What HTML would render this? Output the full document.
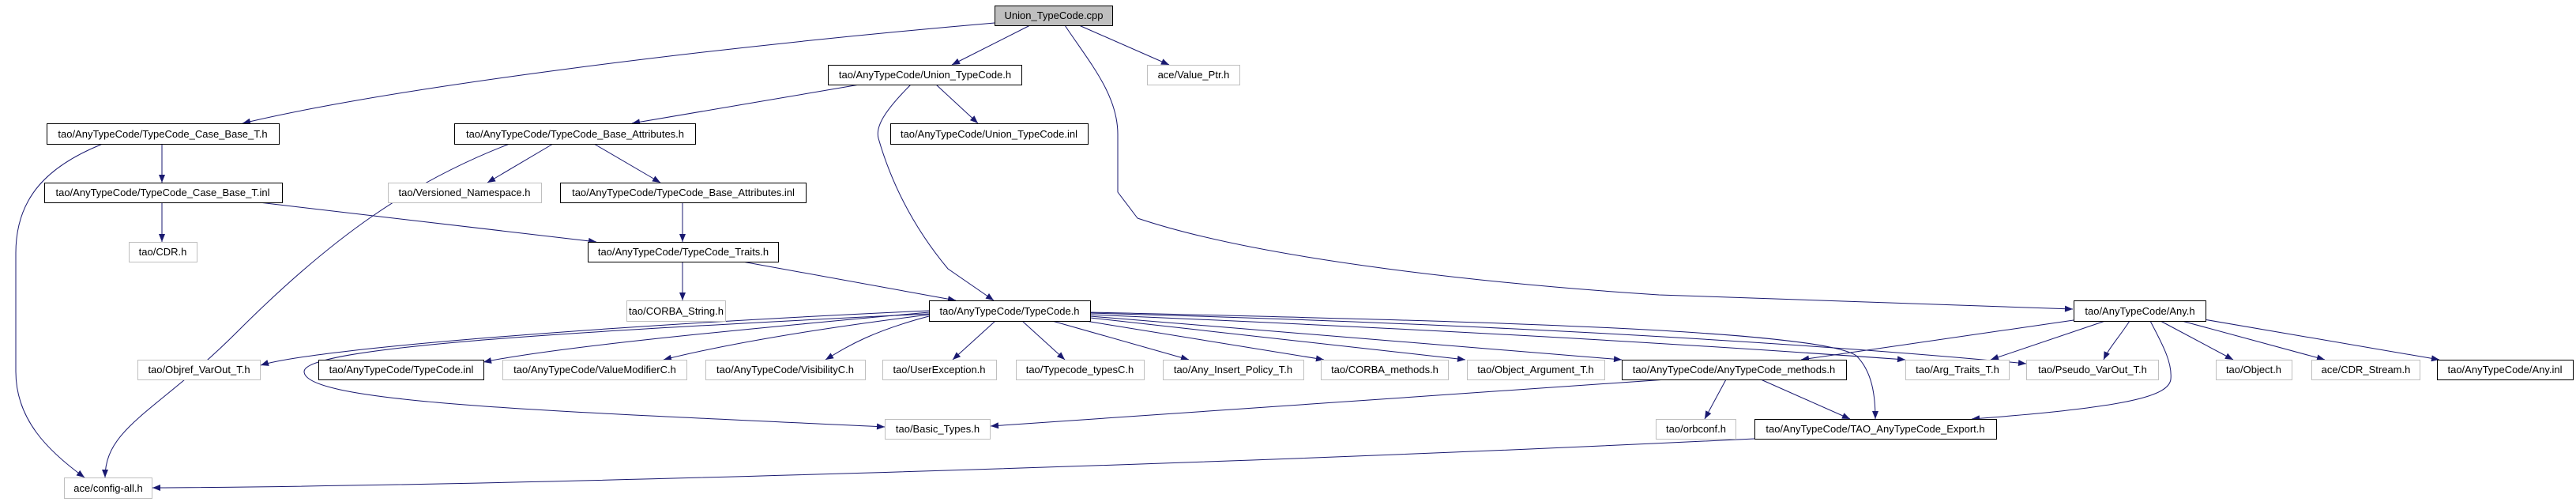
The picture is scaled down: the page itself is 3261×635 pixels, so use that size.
<!DOCTYPE html>
<html><head><meta charset="utf-8"><style>
html,body{margin:0;padding:0;background:#fff;width:3261px;height:635px;overflow:hidden}
svg text{font-family:"Liberation Sans",sans-serif;font-size:13px;fill:#000}
</style></head><body>
<svg width="3261" height="635" viewBox="0 0 3261 635" xmlns="http://www.w3.org/2000/svg">
<defs><marker id="a" viewBox="0 0 10 8" refX="10" refY="4" markerWidth="11" markerHeight="8" markerUnits="userSpaceOnUse" orient="auto"><path d="M0,0L10,4L0,8z" fill="#191970"/></marker></defs>
<g fill="none" stroke="#191970" stroke-width="1" marker-end="url(#a)">
<path d="M1259,29 C900,60 500,110 307,156"/>
<path d="M1304,32 L1205,82"/>
<path d="M1366,32 L1480,82"/>
<path d="M1348,32 C1380,80 1415,120 1415,170 L1415,243 L1440,276 C1600,330 1900,360 2100,373 L2624,391"/>
<path d="M1088,107 L800,156"/>
<path d="M1185,107 L1238,156"/>
<path d="M1153,107 C1120,140 1108,160 1112,175 C1125,220 1150,280 1200,340 L1258,380"/>
<path d="M205,182 L205,231"/>
<path d="M130,182 C60,210 20,250 20,320 L20,470 C20,530 60,570 107,604"/>
<path d="M645,182 C520,230 420,300 300,420 C200,520 133,540 133,604"/>
<path d="M700,182 L617,231"/>
<path d="M752,182 L836,231"/>
<path d="M205,256 L205,306"/>
<path d="M328,256 L755,306"/>
<path d="M864,256 L864,306"/>
<path d="M864,331 L864,380"/>
<path d="M940,331 L1210,380"/>
<path d="M1176,393 C800,410 400,440 330,462"/>
<path d="M1176,395 C900,420 700,440 612,458"/>
<path d="M1176,398 C1000,420 900,440 840,455"/>
<path d="M1176,400 C1100,420 1070,440 1045,455"/>
<path d="M1260,406 L1206,455"/>
<path d="M1294,406 L1348,455"/>
<path d="M1332,406 L1505,455"/>
<path d="M1368,405 L1676,455"/>
<path d="M1380,402 L1855,455"/>
<path d="M1380,400 L2053,455"/>
<path d="M1176,397 C700,420 385,440 385,470 C385,510 700,520 1120,540"/>
<path d="M1380,398 C1900,420 2200,440 2412,455"/>
<path d="M1380,396 C1900,410 2300,435 2565,460"/>
<path d="M1380,395 C1800,405 2300,415 2350,450 C2370,470 2374,500 2374,530"/>
<path d="M2221,555 C1500,590 600,615 193,617"/>
<path d="M2625,405 L2280,455"/>
<path d="M2665,406 L2520,455"/>
<path d="M2696,406 C2680,430 2670,440 2663,455"/>
<path d="M2722,406 C2740,440 2750,460 2748,480 C2745,500 2700,515 2496,530"/>
<path d="M2735,406 L2827,455"/>
<path d="M2762,406 L2943,455"/>
<path d="M2790,404 L3088,455"/>
<path d="M2185,480 L2158,530"/>
<path d="M2229,480 L2342,530"/>
<path d="M2110,480 C1800,500 1500,520 1254,539"/>
</g>
<g stroke-width="1">
<rect x="1259.5" y="7.5" width="149" height="25" fill="#bfbfbf" stroke="#000"/>
<rect x="1048.5" y="82.5" width="245" height="25" fill="#fff" stroke="#000"/>
<rect x="1452.5" y="82.5" width="117" height="25" fill="#fff" stroke="#bfbfbf"/>
<rect x="59.5" y="156.5" width="294" height="26" fill="#fff" stroke="#000"/>
<rect x="575.5" y="156.5" width="305" height="26" fill="#fff" stroke="#000"/>
<rect x="1127.5" y="156.5" width="250" height="26" fill="#fff" stroke="#000"/>
<rect x="56.5" y="231.5" width="301" height="25" fill="#fff" stroke="#000"/>
<rect x="491.5" y="231.5" width="194" height="25" fill="#fff" stroke="#bfbfbf"/>
<rect x="709.5" y="231.5" width="311" height="25" fill="#fff" stroke="#000"/>
<rect x="163.5" y="306.5" width="86" height="25" fill="#fff" stroke="#bfbfbf"/>
<rect x="744.5" y="306.5" width="241" height="25" fill="#fff" stroke="#000"/>
<rect x="793.5" y="380.5" width="125" height="26" fill="#fff" stroke="#bfbfbf"/>
<rect x="1176.5" y="380.5" width="204" height="26" fill="#fff" stroke="#000"/>
<rect x="2625.5" y="380.5" width="167" height="26" fill="#fff" stroke="#000"/>
<rect x="174.5" y="455.5" width="155" height="25" fill="#fff" stroke="#bfbfbf"/>
<rect x="403.5" y="455.5" width="209" height="25" fill="#fff" stroke="#000"/>
<rect x="636.5" y="455.5" width="233" height="25" fill="#fff" stroke="#bfbfbf"/>
<rect x="893.5" y="455.5" width="202" height="25" fill="#fff" stroke="#bfbfbf"/>
<rect x="1117.5" y="455.5" width="144" height="25" fill="#fff" stroke="#bfbfbf"/>
<rect x="1286.5" y="455.5" width="162" height="25" fill="#fff" stroke="#bfbfbf"/>
<rect x="1472.5" y="455.5" width="178" height="25" fill="#fff" stroke="#bfbfbf"/>
<rect x="1672.5" y="455.5" width="161" height="25" fill="#fff" stroke="#bfbfbf"/>
<rect x="1857.5" y="455.5" width="174" height="25" fill="#fff" stroke="#bfbfbf"/>
<rect x="2053.5" y="455.5" width="284" height="25" fill="#fff" stroke="#000"/>
<rect x="2412.5" y="455.5" width="131" height="25" fill="#fff" stroke="#bfbfbf"/>
<rect x="2565.5" y="455.5" width="167" height="25" fill="#fff" stroke="#bfbfbf"/>
<rect x="2805.5" y="455.5" width="96" height="25" fill="#fff" stroke="#bfbfbf"/>
<rect x="2926.5" y="455.5" width="137" height="25" fill="#fff" stroke="#bfbfbf"/>
<rect x="3085.5" y="455.5" width="172" height="25" fill="#fff" stroke="#000"/>
<rect x="1120.5" y="530.5" width="133" height="25" fill="#fff" stroke="#bfbfbf"/>
<rect x="2096.5" y="530.5" width="101" height="25" fill="#fff" stroke="#bfbfbf"/>
<rect x="2221.5" y="530.5" width="306" height="25" fill="#fff" stroke="#000"/>
<rect x="81.5" y="604.5" width="111" height="26" fill="#fff" stroke="#bfbfbf"/>
</g>
<g text-anchor="middle">
<text x="1334" y="24">Union_TypeCode.cpp</text>
<text x="1171" y="99">tao/AnyTypeCode/Union_TypeCode.h</text>
<text x="1511" y="99">ace/Value_Ptr.h</text>
<text x="206" y="174">tao/AnyTypeCode/TypeCode_Case_Base_T.h</text>
<text x="728" y="174">tao/AnyTypeCode/TypeCode_Base_Attributes.h</text>
<text x="1252" y="174">tao/AnyTypeCode/Union_TypeCode.inl</text>
<text x="206" y="248">tao/AnyTypeCode/TypeCode_Case_Base_T.inl</text>
<text x="588" y="248">tao/Versioned_Namespace.h</text>
<text x="865" y="248">tao/AnyTypeCode/TypeCode_Base_Attributes.inl</text>
<text x="206" y="323">tao/CDR.h</text>
<text x="865" y="323">tao/AnyTypeCode/TypeCode_Traits.h</text>
<text x="856" y="398">tao/CORBA_String.h</text>
<text x="1278" y="398">tao/AnyTypeCode/TypeCode.h</text>
<text x="2709" y="398">tao/AnyTypeCode/Any.h</text>
<text x="252" y="472">tao/Objref_VarOut_T.h</text>
<text x="508" y="472">tao/AnyTypeCode/TypeCode.inl</text>
<text x="753" y="472">tao/AnyTypeCode/ValueModifierC.h</text>
<text x="994" y="472">tao/AnyTypeCode/VisibilityC.h</text>
<text x="1189" y="472">tao/UserException.h</text>
<text x="1367" y="472">tao/Typecode_typesC.h</text>
<text x="1561" y="472">tao/Any_Insert_Policy_T.h</text>
<text x="1753" y="472">tao/CORBA_methods.h</text>
<text x="1944" y="472">tao/Object_Argument_T.h</text>
<text x="2195" y="472">tao/AnyTypeCode/AnyTypeCode_methods.h</text>
<text x="2478" y="472">tao/Arg_Traits_T.h</text>
<text x="2649" y="472">tao/Pseudo_VarOut_T.h</text>
<text x="2853" y="472">tao/Object.h</text>
<text x="2995" y="472">ace/CDR_Stream.h</text>
<text x="3171" y="472">tao/AnyTypeCode/Any.inl</text>
<text x="1187" y="547">tao/Basic_Types.h</text>
<text x="2147" y="547">tao/orbconf.h</text>
<text x="2374" y="547">tao/AnyTypeCode/TAO_AnyTypeCode_Export.h</text>
<text x="137" y="622">ace/config-all.h</text>
</g>
</svg>
</body></html>
